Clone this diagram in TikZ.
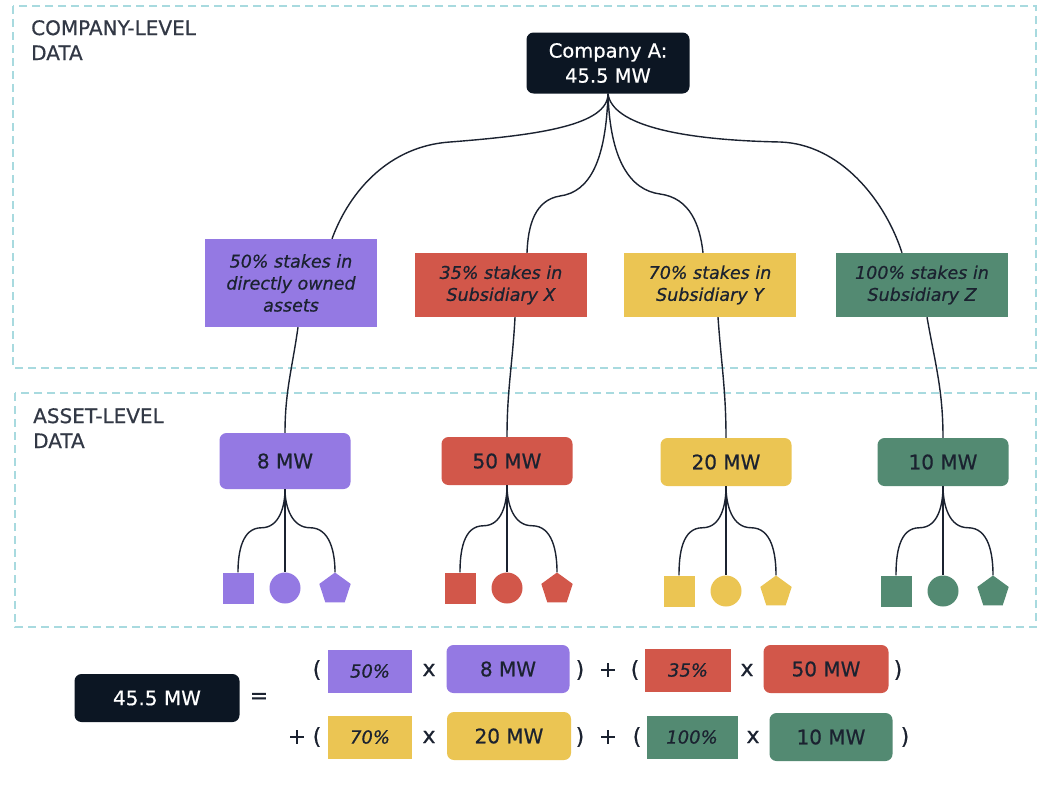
\documentclass[tikz,border=0pt]{standalone}
\usepackage{fontspec}
\setmainfont{DejaVu Sans}[FakeBold=0.6]
\usetikzlibrary{shapes.geometric,calc}
\definecolor{navy}{HTML}{0C1623}
\definecolor{purp}{HTML}{9479E3}
\definecolor{redc}{HTML}{D2574A}
\definecolor{yell}{HTML}{EBC553}
\definecolor{gree}{HTML}{538A72}
\definecolor{ink}{HTML}{1B2230}
\definecolor{dashc}{HTML}{A8DADF}
\tikzset{
  region/.style={draw=dashc, line width=1.5pt, dash pattern=on 8pt off 5pt},
  heading/.style={anchor=north west, align=left, text=ink!90!white, inner sep=0pt, font=\fontsize{20}{25}\selectfont},
  stake/.style={rectangle, minimum width=172pt, minimum height=64pt, align=center, text=ink, inner sep=0pt, font=\fontsize{17.5}{22}\selectfont\itshape},
  mw/.style={rectangle, rounded corners=7pt, minimum width=131pt, minimum height=48pt, text=ink, inner sep=0pt, font=\fontsize{20}{24}\selectfont},
  dark/.style={rectangle, fill=navy, text=white, rounded corners=7pt, align=center, inner sep=0pt},
  conn/.style={draw=ink, line width=1.4pt},
  sq/.style={rectangle, minimum size=31pt, inner sep=0pt},
  circ/.style={circle, minimum size=31pt, inner sep=0pt},
  pent/.style={regular polygon, regular polygon sides=5, minimum size=33pt, inner sep=0pt},
  op/.style={text=ink, inner sep=0pt, font=\fontsize{22}{24}\selectfont},
  pct/.style={rectangle, minimum width=84pt, minimum height=43pt, inner sep=0pt, text=ink, font=\fontsize{18}{20}\selectfont\itshape}
}
\begin{document}
\begin{tikzpicture}[x=1pt,y=-1pt]
\useasboundingbox[fill=white] (0,0) rectangle (1040,811);

% regions
\draw[region] (13,6) rectangle (1036,368);
\draw[region] (15,393) rectangle (1036,627);
\node[heading] (h1) at (31,20) {COMPANY-LEVEL\\DATA};
\node[heading] (h2) at (33,408) {ASSET-LEVEL\\DATA};

% top node
\node[dark, minimum width=163pt, minimum height=61pt, font=\fontsize{19.5}{25}\selectfont] (A) at (608,63) {Company A:\\45.5 MW};

% stakes
\node[stake, fill=purp, minimum height=88pt] (S1) at (291,283) {50\% stakes in\\directly owned\\assets};
\node[stake, fill=redc] (S2) at (501,285) {35\% stakes in\\Subsidiary X};
\node[stake, fill=yell] (S3) at (710,285) {70\% stakes in\\Subsidiary Y};
\node[stake, fill=gree] (S4) at (922,285) {100\% stakes in\\Subsidiary Z};

% MW boxes
\node[mw, fill=purp, minimum height=56pt] (M1) at (285,461) {8 MW};
\node[mw, fill=redc] (M2) at (507,461) {50 MW};
\node[mw, fill=yell] (M3) at (726,462) {20 MW};
\node[mw, fill=gree] (M4) at (943,462) {10 MW};

% connectors company -> stakes
\draw[conn] (A.south) .. controls (608,125) and (540,135) .. (450,142)
  .. controls (390,146) and (350,190) .. ([xshift=41pt]S1.north);
\draw[conn] (A.south) .. controls (606,160) and (590,192) .. (560,196)
  .. controls (535,200) and (528,225) .. ([xshift=26pt]S2.north);
\draw[conn] (A.south) .. controls (610,160) and (630,190) .. (660,194)
  .. controls (690,198) and (700,225) .. ([xshift=-7pt]S3.north);
\draw[conn] (A.south) .. controls (612,125) and (680,140) .. (780,142)
  .. controls (840,144) and (885,200) .. ([xshift=-20pt]S4.north);

% stakes -> MW
\draw[conn] ([xshift=7pt]S1.south) to[out=-98,in=90] (M1.north);
\draw[conn] ([xshift=14pt]S2.south) to[out=-93,in=90] (M2.north);
\draw[conn] ([xshift=8pt]S3.south) to[out=-86,in=90] (M3.north);
\draw[conn] ([xshift=5pt]S4.south) to[out=-80,in=90] (M4.north);

% assets
\foreach \i/\col/\xc/\ys in {1/purp/285/588, 2/redc/507/588, 3/yell/726/591, 4/gree/943/591}{
  \node[sq, fill=\col] (q\i) at (\xc-47,\ys) {};
  \node[circ, fill=\col] (c\i) at (\xc,\ys) {};
  \node[pent, fill=\col] (p\i) at (\xc+50,\ys+1) {};
  \draw[conn] (M\i.south) -- (c\i.north);
  \draw[conn] (M\i.south) to[out=-90,in=0] ($(M\i.south)!0.5!(q\i.north)+(0,-3)$) to[out=180,in=90] (q\i.north);
  \draw[conn] (M\i.south) to[out=-90,in=180] ($(M\i.south)!0.5!(p\i.north)+(0,-3)$) to[out=0,in=90] (p\i.north);
}

% equation
\node[dark, minimum width=165pt, minimum height=48pt, font=\fontsize{20}{24}\selectfont] (T) at (157,698) {45.5 MW};
\node[op] (eq) at (259,698) {=};

\node[op] (lp1) at (317,670) {(};
\node[pct, fill=purp] (e1) at (370,671) {50\%};
\node[op] (x1) at (429,670) {x};
\node[mw, fill=purp, minimum width=123pt] (f1) at (508,669) {8 MW};
\node[op] (rp1) at (580,670) {)};
\node[op] (pl1) at (608,670) {+};
\node[op] (lp2) at (635,670) {(};
\node[pct, fill=redc, minimum width=86pt] (e2) at (688,670) {35\%};
\node[op] (x2) at (747,670) {x};
\node[mw, fill=redc, minimum width=125pt] (f2) at (826,669) {50 MW};
\node[op] (rp2) at (898,670) {)};

\node[op] (pl2) at (297,737) {+};
\node[op] (lp3) at (317,737) {(};
\node[pct, fill=yell] (e3) at (370,737) {70\%};
\node[op] (x3) at (429,737) {x};
\node[mw, fill=yell, minimum width=124pt] (f3) at (509,736) {20 MW};
\node[op] (rp3) at (580,737) {)};
\node[op] (pl3) at (608,737) {+};
\node[op] (lp4) at (637,737) {(};
\node[pct, fill=gree, minimum width=91pt] (e4) at (692,737) {100\%};
\node[op] (x4) at (753,737) {x};
\node[mw, fill=gree, minimum width=123pt] (f4) at (831,737) {10 MW};
\node[op] (rp4) at (905,737) {)};
\end{tikzpicture}
\end{document}
